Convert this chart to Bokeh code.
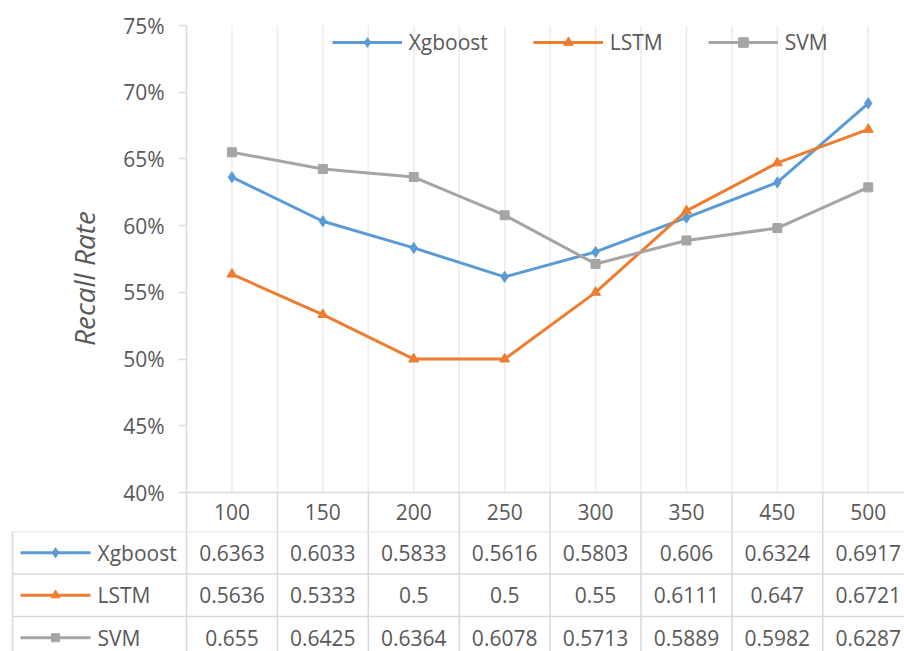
from bokeh.core.properties import value
from bokeh.embed import file_html
from bokeh.models import (FixedTicker, Legend, LegendItem,
                          NumeralTickFormatter, Range1d)
from bokeh.plotting import figure
from bokeh.resources import INLINE

# ---- data -------------------------------------------------------------
categories = ["100", "150", "200", "250", "300", "350", "450", "500"]
xgboost = [0.6363, 0.6033, 0.5833, 0.5616, 0.5803, 0.606, 0.6324, 0.6917]
lstm = [0.5636, 0.5333, 0.5, 0.5, 0.55, 0.6111, 0.647, 0.6721]
svm = [0.655, 0.6425, 0.6364, 0.6078, 0.5713, 0.5889, 0.5982, 0.6287]
series_names = ["Xgboost", "LSTM", "SVM"]
y_ticks = [0.40, 0.45, 0.50, 0.55, 0.60, 0.65, 0.70, 0.75]

series_values = [xgboost, lstm, svm]
colors = ["#5B9BD5", "#ED7D31", "#A5A5A5"]
markers = ["diamond", "triangle", "square"]
marker_sizes = [11, 10, 9]

# ---- layout constants (pixels) ---------------------------------------
W, H = 904, 651
LEFT = 186            # plot area left edge / first table column border
COL_W = 90.9          # width of one category column
TOP = 25              # px of the 75% tick
AXIS_BOTTOM = 492     # px of the 40% tick
HEADER_BOTTOM = 531   # bottom of the category header row
ROW_H = 42.5          # data-table row height
TABLE_LEFT = 12       # left border of the data table

FONT = "Open Sans"
TEXT_COLOR = "#595959"
GRID_COLOR = "#ececec"
BORDER_COLOR = "#d9d9d9"
FS = "21px"

ymin, ymax = y_ticks[0], y_ticks[-1]
px_per_unit = (AXIS_BOTTOM - TOP) / (ymax - ymin)
y_start = ymin - (HEADER_BOTTOM - AXIS_BOTTOM) / px_per_unit
x_start = -0.5
x_end = x_start + (W - LEFT) / COL_W
xs = list(range(len(categories)))
boundaries = [k - 0.5 for k in range(1, len(categories) + 1)]

# ---- chart with category header row ----------------------------------
p = figure(width=W, height=HEADER_BOTTOM, output_backend="svg",
           toolbar_location=None, title=None,
           x_range=Range1d(x_start, x_end), y_range=Range1d(y_start, ymax),
           x_axis_location=None, y_axis_location="left",
           min_border_left=LEFT, min_border_right=0,
           min_border_top=TOP, min_border_bottom=0)
p.outline_line_color = None
p.xgrid.visible = False
p.ygrid.visible = False

yax = p.yaxis[0]
yax.ticker = FixedTicker(ticks=y_ticks)
yax.formatter = NumeralTickFormatter(format="0%")
yax.major_label_text_font = FONT
yax.major_label_text_font_size = FS
yax.major_label_text_color = TEXT_COLOR
yax.major_tick_out = 8
yax.major_tick_in = 0
yax.minor_tick_out = 0
yax.minor_tick_in = 0
yax.major_label_standoff = 14
yax.axis_line_color = BORDER_COLOR
yax.axis_line_width = 1.5
yax.major_tick_line_color = BORDER_COLOR
yax.major_tick_line_width = 1.5
yax.axis_label = "Recall Rate"
yax.axis_label_text_font = FONT
yax.axis_label_text_font_size = "28px"
yax.axis_label_text_font_style = "italic"
yax.axis_label_text_color = TEXT_COLOR
yax.axis_label_standoff = 17

# vertical gridlines at category centres and column borders
grid_x = xs + boundaries
p.segment(x0=grid_x, x1=grid_x, y0=[ymin] * len(grid_x), y1=[ymax] * len(grid_x),
          line_color=GRID_COLOR, line_width=1.5)
# header-row column borders and the 40% baseline
p.segment(x0=boundaries, x1=boundaries, y0=[y_start] * len(boundaries),
          y1=[ymin] * len(boundaries), line_color=BORDER_COLOR, line_width=1.5)
p.segment(x0=[x_start], x1=[x_end], y0=[ymin], y1=[ymin],
          line_color=BORDER_COLOR, line_width=1.5)

header_y = (ymin + y_start) / 2
p.text(x=xs, y=[header_y] * len(xs), text=categories,
       text_font=value(FONT), text_font_size=FS, text_color=TEXT_COLOR,
       text_align="center", text_baseline="middle")

items = []
for name, vals, col, mk, ms in zip(series_names, series_values, colors, markers, marker_sizes):
    lr = p.line(xs, vals, line_color=col, line_width=3)
    sr = p.scatter(xs, vals, marker=mk, size=ms, fill_color=col, line_color=col)
    items.append(LegendItem(label=name, renderers=[lr, sr]))

legend = Legend(items=items, orientation="horizontal",
                location=(331.7 - LEFT, HEADER_BOTTOM - 56),
                glyph_width=70, glyph_height=24, label_standoff=7, spacing=45,
                padding=0, margin=0, border_line_color=None,
                background_fill_alpha=0,
                label_text_font=FONT, label_text_font_size=FS,
                label_text_color=TEXT_COLOR)
p.add_layout(legend)

# ---- data table -------------------------------------------------------
t_height = H - HEADER_BOTTOM
n_rows = t_height / ROW_H
tx_start = x_start - LEFT / COL_W
table_left = tx_start + TABLE_LEFT / COL_W

t = figure(width=W, height=t_height, output_backend="svg",
           toolbar_location=None, title=None,
           x_range=Range1d(tx_start, x_end), y_range=Range1d(n_rows, 0),
           x_axis_location=None, y_axis_location=None,
           min_border_left=0, min_border_right=0,
           min_border_top=0, min_border_bottom=0)
t.outline_line_color = None
t.xgrid.visible = False
t.ygrid.visible = False

row_lines = list(range(len(series_names)))
t.segment(x0=[table_left] * len(row_lines), x1=[x_end] * len(row_lines),
          y0=row_lines, y1=row_lines, line_color=BORDER_COLOR, line_width=1.5)
col_lines = [table_left, x_start] + boundaries
t.segment(x0=col_lines, x1=col_lines, y0=[0] * len(col_lines),
          y1=[n_rows] * len(col_lines), line_color=BORDER_COLOR, line_width=1.5)

key_x0 = table_left + (20 - TABLE_LEFT) / COL_W
key_x1 = table_left + (90 - TABLE_LEFT) / COL_W
key_text_x = table_left + (97 - TABLE_LEFT) / COL_W
for i, (name, vals, col, mk, ms) in enumerate(
        zip(series_names, series_values, colors, markers, marker_sizes)):
    yc = i + 0.5
    t.segment(x0=[key_x0], x1=[key_x1], y0=[yc], y1=[yc], line_color=col, line_width=3)
    t.scatter([(key_x0 + key_x1) / 2], [yc], marker=mk, size=ms - 1,
              fill_color=col, line_color=col)
    t.text(x=[key_text_x], y=[yc], text=[name], text_font=value(FONT),
           text_font_size=FS, text_color=TEXT_COLOR, text_align="left",
           text_baseline="middle")
    t.text(x=xs, y=[yc] * len(xs), text=[f"{v:g}" for v in vals],
           text_font=value(FONT), text_font_size=FS, text_color=TEXT_COLOR,
           text_align="center", text_baseline="middle")

# two independent roots so the table keeps its own full-width frame
open("out.html", "w").write(file_html([p, t], INLINE))
